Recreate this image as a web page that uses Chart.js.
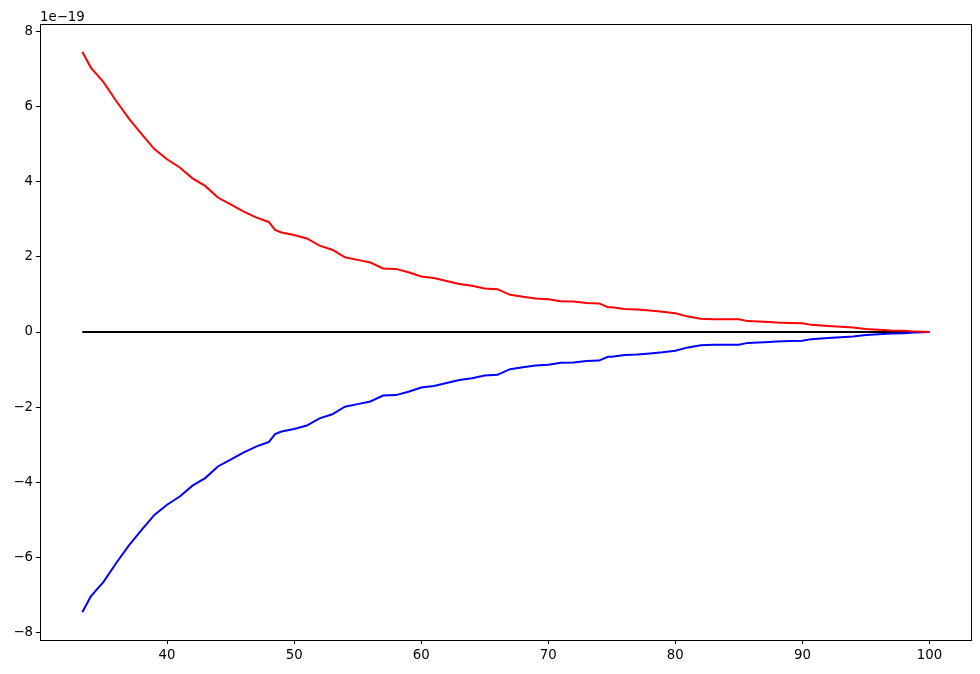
<!DOCTYPE html>
<html>
<head>
<meta charset="utf-8">
<script src="https://cdn.jsdelivr.net/npm/chart.js@4.4.1/dist/chart.umd.min.js"></script>
<style>
  html, body { margin: 0; padding: 0; background: #fff; }
  #wrap { width: 980px; height: 674px; }
</style>
</head>
<body>
<div id="wrap"><canvas id="chart" width="980" height="674"></canvas></div>
<script>
// values in units of 1e-19
const xs = [33.33, 34, 35, 36, 37, 38, 39, 40, 41, 42, 43, 44, 45, 46, 47, 48, 48.5, 49, 50,
    51, 52, 53, 54, 55, 56, 57, 58, 59, 60, 61, 62, 63, 64, 65, 66, 67, 68, 69, 70,
    71, 72, 73, 74, 74.7, 75, 76, 77, 78, 79, 80, 81, 82, 83, 84, 85, 85.7, 87, 88, 89, 90,
    90.7, 92, 93, 94, 95, 96, 97, 98, 99, 100];
const upper = [7.46, 7.04, 6.65, 6.15, 5.68, 5.27, 4.87, 4.60, 4.38, 4.09, 3.89, 3.58, 3.40, 3.21, 3.05, 2.93, 2.72, 2.65, 2.58,
    2.49, 2.30, 2.19, 1.99, 1.92, 1.85, 1.69, 1.68, 1.59, 1.48, 1.44, 1.36, 1.28, 1.23, 1.16, 1.14, 0.99, 0.94, 0.89, 0.87,
    0.82, 0.81, 0.77, 0.76, 0.66, 0.66, 0.61, 0.60, 0.57, 0.54, 0.50, 0.41, 0.35, 0.34, 0.34, 0.34, 0.29, 0.27, 0.25, 0.24, 0.23,
    0.19, 0.16, 0.14, 0.12, 0.08, 0.06, 0.04, 0.03, 0.01, 0];
// lower curve mirrors the upper one
const lower = upper.map(v => -v);
const zeroLine = [[33.33, 0], [100, 0]];

const xTicks = [40, 50, 60, 70, 80, 90, 100];
const yTicks = [-8, -6, -4, -2, 0, 2, 4, 6, 8];
const offsetLabel = "1e\u221219";

const FONT = "'DejaVu Sans', sans-serif";

function pts(x, y) {
    return x.map((v, i) => ({ x: v, y: y[i] }));
}

const frame = {
    id: "frame",
    afterDraw(chart) {
        const a = chart.chartArea, ctx = chart.ctx;
        ctx.save();
        ctx.strokeStyle = "#000";
        ctx.lineWidth = 1;
        ctx.strokeRect(Math.round(a.left) + 0.5, Math.round(a.top) + 0.5,
            Math.round(a.right - a.left), Math.round(a.bottom - a.top));
        ctx.fillStyle = "#000";
        ctx.font = "13.3px " + FONT;
        ctx.textAlign = "left";
        ctx.textBaseline = "alphabetic";
        ctx.fillText(offsetLabel, a.left, a.top - 3);
        ctx.restore();
    }
};

function minus(v) {
    return v < 0 ? "\u2212" + Math.abs(v) : String(v);
}

new Chart(document.getElementById("chart"), {
    type: "line",
    data: {
        datasets: [
            { data: pts(xs, upper), borderColor: "#ff0000", borderWidth: 2, pointRadius: 0, tension: 0, fill: false },
            { data: pts(xs, lower), borderColor: "#0000ff", borderWidth: 2, pointRadius: 0, tension: 0, fill: false },
            { data: zeroLine.map(p => ({ x: p[0], y: p[1] })), borderColor: "#000000", borderWidth: 2, pointRadius: 0, fill: false }
        ]
    },
    options: {
        responsive: false,
        animation: false,
        devicePixelRatio: 1,
        layout: { padding: { left: 0, right: 9, top: 24, bottom: 0 } },
        plugins: { legend: { display: false }, tooltip: { enabled: false } },
        scales: {
            x: {
                type: "linear",
                min: 30, max: 103.27,
                afterBuildTicks: s => { s.ticks = xTicks.map(v => ({ value: v })); },
                afterFit: s => { s.height = 34; },
                border: { display: false },
                grid: { drawOnChartArea: false, drawTicks: true, tickLength: 4, color: "#000" },
                ticks: { color: "#000", font: { family: FONT, size: 13.3 }, padding: 4, maxRotation: 0 }
            },
            y: {
                type: "linear",
                min: -8.2, max: 8.2,
                afterBuildTicks: s => { s.ticks = yTicks.map(v => ({ value: v })); },
                afterFit: s => { s.width = 40; },
                border: { display: false },
                grid: { drawOnChartArea: false, drawTicks: true, tickLength: 4, color: "#000" },
                ticks: { color: "#000", font: { family: FONT, size: 13.3 }, padding: 3, callback: v => minus(v) }
            }
        }
    },
    plugins: [frame]
});
</script>
</body>
</html>
